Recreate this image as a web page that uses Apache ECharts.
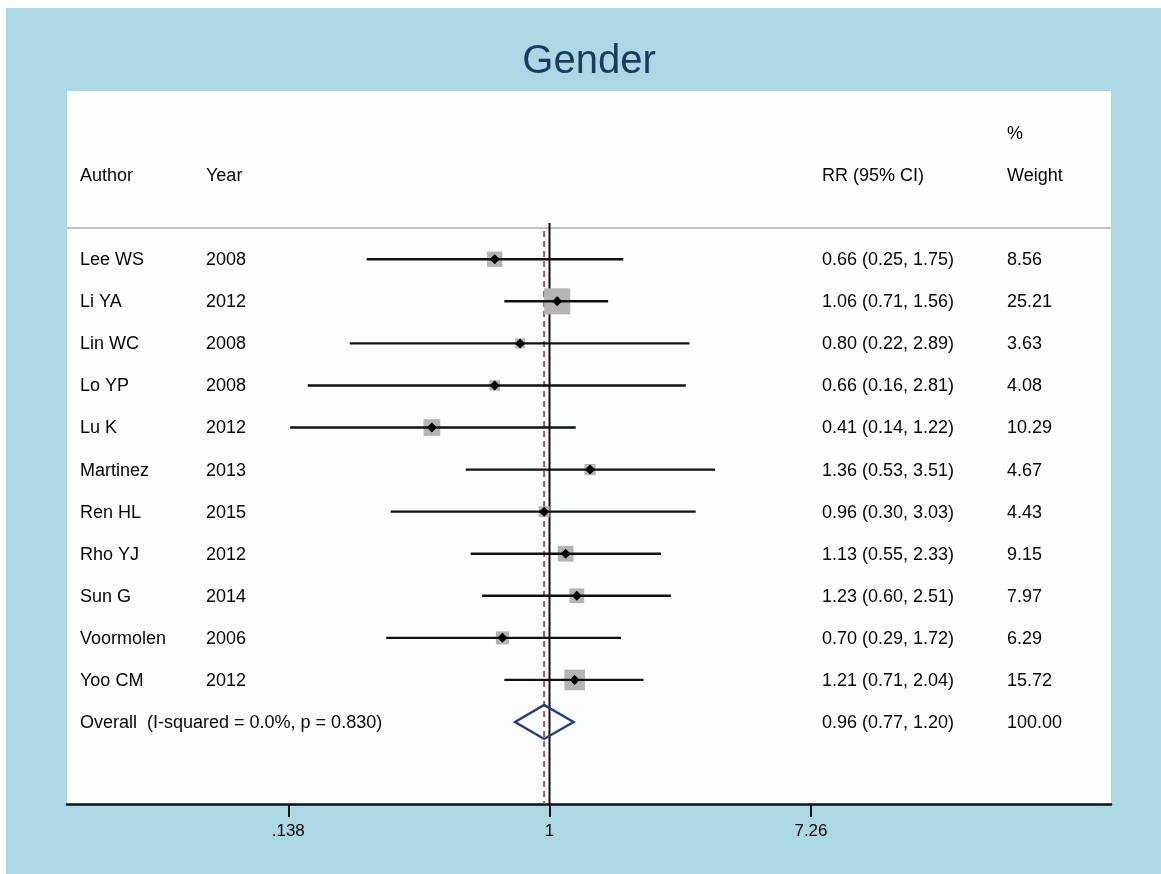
<!DOCTYPE html>
<html>
<head>
<meta charset="utf-8">
<script src="https://cdn.jsdelivr.net/npm/echarts@6/dist/echarts.min.js"></script>
<style>
html,body{margin:0;padding:0;background:#ffffff;}
#chart{width:1161px;height:874px;}
</style>
</head>
<body>
<div id="chart"></div>
<script>
// ---- data ----
var chartTitle = 'Gender';
var authors = ['Lee WS','Li YA','Lin WC','Lo YP','Lu K','Martinez','Ren HL','Rho YJ','Sun G','Voormolen','Yoo CM'];
var years = [2008,2012,2008,2008,2012,2013,2015,2012,2014,2006,2012];
var rr = [0.66,1.06,0.80,0.66,0.41,1.36,0.96,1.13,1.23,0.70,1.21];
var ciLow = [0.25,0.71,0.22,0.16,0.14,0.53,0.30,0.55,0.60,0.29,0.71];
var ciHigh = [1.75,1.56,2.89,2.81,1.22,3.51,3.03,2.33,2.51,1.72,2.04];
var weights = [8.56,25.21,3.63,4.08,10.29,4.67,4.43,9.15,7.97,6.29,15.72];
var overallLabel = 'Overall  (I-squared = 0.0%, p = 0.830)';
var overallRR = 0.96, overallLow = 0.77, overallHigh = 1.20, overallWeight = 100.00;
var tickValues = [0.138, 1, 7.26];
var tickLabels = ['.138', '1', '7.26'];
var headerAuthor = 'Author', headerYear = 'Year', headerRR = 'RR (95% CI)', headerPct = '%', headerWeight = 'Weight';

// ---- build ----
var FONT = '"Liberation Sans", Arial, Helvetica, sans-serif';
var TXT = '#050505';
var ln = Math.log;
var nStudy = authors.length;
var overallRow = nStudy;

var studyData = authors.map(function (a, i) {
  return [ln(rr[i]), i, ln(ciLow[i]), ln(ciHigh[i]), weights[i]];
});

var textRows = authors.map(function (a, i) {
  return {
    value: [0, i],
    texts: [a, String(years[i]), rr[i].toFixed(2) + ' (' + ciLow[i].toFixed(2) + ', ' + ciHigh[i].toFixed(2) + ')', weights[i].toFixed(2)]
  };
});
textRows.push({ value: [0, overallRow], texts: [overallLabel, '', overallRR.toFixed(2) + ' (' + overallLow.toFixed(2) + ', ' + overallHigh.toFixed(2) + ')', overallWeight.toFixed(2)] });
textRows.push({ value: [0, -2], texts: [headerAuthor, headerYear, headerRR, headerWeight] });
textRows.push({ value: [0, -3], texts: ['', '', '', headerPct] });

var colX = [80, 206, 822, 1007];
var tickLn = tickValues.map(function (v) { return ln(v); });

var chart = echarts.init(document.getElementById('chart'), null, { renderer: 'canvas' });

function txt(x, y, s) {
  return { type: 'text', style: { x: x, y: y + 1, text: s, fill: TXT, font: '18px ' + FONT, textAlign: 'left', textVerticalAlign: 'middle' } };
}

var option = {
  backgroundColor: '#acd7e5',
  animation: false,
  graphic: [
    { type: 'rect', shape: { x: 0, y: 0, width: 1161, height: 8 }, style: { fill: '#ffffff' }, z: 100 },
    { type: 'rect', shape: { x: 0, y: 0, width: 6, height: 874 }, style: { fill: '#ffffff' }, z: 100 },
    { type: 'text', style: { x: 589, y: 62, text: chartTitle, fill: '#1b3a5f', font: '40px ' + FONT, textAlign: 'center', textVerticalAlign: 'middle' }, z: 100 }
  ],
  grid: { left: 67, right: 50, top: 91, bottom: 70, show: true, backgroundColor: '#fcfdfe', borderWidth: 0 },
  xAxis: {
    type: 'value', min: -3.658, max: 4.257,
    axisLine: { show: true, onZero: false, lineStyle: { color: '#111', width: 2.5 } },
    axisTick: { show: true, customValues: tickLn, length: 13, lineStyle: { color: '#111', width: 2 } },
    axisLabel: {
      show: true, customValues: tickLn, margin: 19, color: TXT, fontSize: 17, fontFamily: FONT,
      formatter: function (v) {
        for (var i = 0; i < tickLn.length; i++) { if (Math.abs(tickLn[i] - v) < 1e-6) return tickLabels[i]; }
        return '';
      }
    },
    splitLine: { show: false }
  },
  yAxis: { type: 'value', inverse: true, min: -4, max: 12.95, show: false, splitLine: { show: false } },
  series: [
    {
      // separator + reference lines
      type: 'custom', z: 1, silent: true,
      data: [[0, -0.743]],
      renderItem: function (params, api) {
        var cs = params.coordSys;
        var ySep = api.coord([0, -0.743])[1];
        var top = api.coord([0, -0.86])[1];
        var bottom = api.coord([0, 12.95])[1];
        var x1 = api.coord([0, 0])[0];
        var xo = api.coord([ln(overallRR), 0])[0];
        return { type: 'group', children: [
          { type: 'line', shape: { x1: cs.x, y1: ySep, x2: cs.x + cs.width, y2: ySep }, style: { stroke: '#c2c2c2', lineWidth: 2 } },
          { type: 'line', shape: { x1: x1, y1: top, x2: x1, y2: bottom }, style: { stroke: '#111', lineWidth: 2 } },
          { type: 'line', shape: { x1: xo, y1: top + 8, x2: xo, y2: bottom }, style: { stroke: '#b25555', lineWidth: 2, lineDash: [6, 4] } }
        ] };
      }
    },
    {
      // study squares + CI + point
      type: 'custom', z: 3, silent: true,
      encode: { x: 0, y: 1 },
      data: studyData,
      renderItem: function (params, api) {
        var p = api.coord([api.value(0), api.value(1)]);
        var l = api.coord([api.value(2), api.value(1)]);
        var h = api.coord([api.value(3), api.value(1)]);
        var side = 5.2 * Math.sqrt(api.value(4));
        var d = 5;
        return { type: 'group', children: [
          { type: 'rect', shape: { x: p[0] - side / 2, y: p[1] - side / 2, width: side, height: side }, style: { fill: '#b4b4b4' } },
          { type: 'line', shape: { x1: l[0], y1: l[1], x2: h[0], y2: h[1] }, style: { stroke: '#111', lineWidth: 2.4 } },
          { type: 'polygon', shape: { points: [[p[0] - d, p[1]], [p[0], p[1] - d], [p[0] + d, p[1]], [p[0], p[1] + d]] }, style: { fill: '#000' } }
        ] };
      }
    },
    {
      // overall diamond
      type: 'custom', z: 4, silent: true,
      encode: { x: 0, y: 1 },
      data: [[ln(overallRR), overallRow, ln(overallLow), ln(overallHigh)]],
      renderItem: function (params, api) {
        var p = api.coord([api.value(0), api.value(1)]);
        var l = api.coord([api.value(2), api.value(1)]);
        var h = api.coord([api.value(3), api.value(1)]);
        var hh = 17;
        return { type: 'polygon', shape: { points: [[l[0], p[1]], [p[0], p[1] - hh], [h[0], p[1]], [p[0], p[1] + hh]] }, style: { fill: 'none', stroke: '#1d3c8c', lineWidth: 2.4 } };
      }
    },
    {
      // text columns
      type: 'custom', z: 5, silent: true,
      encode: { x: 0, y: 1 },
      data: textRows,
      renderItem: function (params, api) {
        var y = api.coord([0, api.value(1)])[1];
        var t = textRows[params.dataIndex].texts;
        var ch = [];
        for (var i = 0; i < t.length; i++) { if (t[i]) ch.push(txt(colX[i], y, t[i])); }
        return { type: 'group', children: ch };
      }
    }
  ]
};
chart.setOption(option);
</script>
</body>
</html>
